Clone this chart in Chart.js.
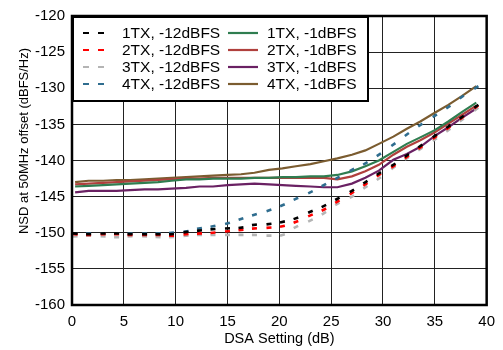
<!DOCTYPE html>
<html>
<head>
<meta charset="utf-8">
<script src="https://cdn.jsdelivr.net/npm/chart.js@4"></script>
<style>
  body { margin: 0; background: #fff; }
  #wrap { width: 503px; height: 350px; position: relative; }
</style>
</head>
<body>
<div id="wrap"><canvas id="nsdChart"></canvas></div>
<script>
// DSA setting (dB) for each measured point
const dsa = [0.3, 1.6, 3.0, 4.3, 5.6, 7.0, 8.3, 9.6, 11.0, 12.3, 13.6, 15.0, 16.3, 17.6, 19.0,
  20.3, 21.6, 23.0, 24.3, 25.6, 27.0, 28.3, 29.6, 31.0, 32.3, 33.6, 35.0, 36.3, 37.6, 39.0];

// NSD (dBFS/Hz), -12dBFS input
const tx1Low = [-150.1, -150.2, -150.1, -150.1, -150.2, -150.2, -150.2, -150.2, -149.9, -149.7,
  -149.5, -149.4, -149.3, -148.9, -148.8, -148.5, -148.0, -147.1, -146.3, -145.3,
  -144.2, -143.0, -141.8, -140.6, -139.3, -138.0, -136.6, -135.3, -134.0, -132.5];
const tx2Low = [-150.2, -150.3, -150.2, -150.2, -150.3, -150.3, -150.3, -150.4, -150.2, -150.1,
  -150.0, -149.8, -149.6, -149.4, -149.3, -149.1, -148.5, -147.6, -146.8, -145.7,
  -144.5, -143.3, -142.0, -140.8, -139.5, -138.2, -136.8, -135.5, -134.1, -132.6];
const tx3Low = [-150.5, -150.4, -150.5, -150.6, -150.5, -150.5, -150.6, -150.6, -150.4, -150.3,
  -150.3, -150.3, -150.3, -150.3, -150.4, -150.3, -149.2, -148.3, -147.3, -146.0,
  -145.0, -143.7, -142.5, -141.0, -139.7, -138.4, -137.1, -135.8, -134.4, -132.9];
const tx4Low = [-150.1, -150.1, -150.1, -150.1, -150.1, -150.1, -150.1, -150.0, -149.8, -149.4,
  -149.1, -148.7, -148.1, -147.5, -146.9, -146.2, -145.3, -144.4, -143.4, -142.4,
  -141.3, -140.4, -139.2, -137.8, -136.4, -135.1, -133.8, -132.6, -131.2, -129.9];

// NSD (dBFS/Hz), -1dBFS input
const tx1High = [-143.6, -143.5, -143.4, -143.3, -143.2, -143.1, -143.0, -142.8, -142.6, -142.6,
  -142.5, -142.5, -142.5, -142.4, -142.4, -142.3, -142.3, -142.2, -142.2, -142.0,
  -141.5, -140.8, -140.0, -138.8, -137.7, -136.8, -135.8, -134.6, -133.3, -132.0];
const tx2High = [-143.3, -143.2, -143.1, -143.0, -142.9, -142.8, -142.7, -142.6, -142.5, -142.5,
  -142.4, -142.4, -142.4, -142.4, -142.4, -142.4, -142.4, -142.4, -142.4, -142.6,
  -142.2, -141.5, -140.6, -139.2, -138.1, -137.2, -136.1, -134.9, -133.7, -132.4];
const tx3High = [-144.4, -144.2, -144.2, -144.2, -144.1, -144.0, -144.0, -143.9, -143.8, -143.6,
  -143.6, -143.4, -143.3, -143.2, -143.3, -143.4, -143.5, -143.6, -143.7, -143.7,
  -143.2, -142.4, -141.4, -139.9, -139.1, -138.1, -136.6, -135.4, -134.1, -132.8];
const tx4High = [-143.0, -142.8, -142.8, -142.7, -142.7, -142.6, -142.5, -142.4, -142.3, -142.2,
  -142.1, -142.0, -141.9, -141.7, -141.3, -141.1, -140.8, -140.5, -140.1, -139.7,
  -139.2, -138.6, -137.7, -136.7, -135.6, -134.6, -133.4, -132.3, -131.1, -129.7];

const xTicks = [0, 5, 10, 15, 20, 25, 30, 35, 40];
const yTicks = [-160, -155, -150, -145, -140, -135, -130, -125, -120];

const FONT = "'Liberation Sans', Arial, sans-serif";

function pts(vals) {
  return vals.map((v, i) => ({ x: dsa[i], y: v }));
}

// tilt each dash marker along the curve
function dashAngle(ctx) {
  const chart = ctx.chart;
  if (!chart.scales || !chart.scales.x) return 0;
  const d = chart.data.datasets[ctx.datasetIndex].data;
  const i = ctx.dataIndex;
  const a = d[Math.max(i - 1, 0)], b = d[Math.min(i + 1, d.length - 1)];
  const dx = chart.scales.x.getPixelForValue(b.x) - chart.scales.x.getPixelForValue(a.x);
  const dy = chart.scales.y.getPixelForValue(b.y) - chart.scales.y.getPixelForValue(a.y);
  return Math.atan2(dy, dx) * 180 / Math.PI;
}

function dashed(label, vals, color) {
  return {
    label, data: pts(vals),
    borderColor: color, backgroundColor: color,
    showLine: false, pointStyle: "line", pointRadius: 2.5,
    pointBorderWidth: 2.6, pointRotation: dashAngle, pointHoverRadius: 2.5
  };
}

function solid(label, vals, color) {
  return {
    label, data: pts(vals),
    borderColor: color, backgroundColor: color,
    borderWidth: 2.2, pointRadius: 0, tension: 0
  };
}

const datasets = [
  dashed("1TX, -12dBFS", tx1Low, "#000000"),
  dashed("2TX, -12dBFS", tx2Low, "#ff0000"),
  dashed("3TX, -12dBFS", tx3Low, "#b4b4b4"),
  dashed("4TX, -12dBFS", tx4Low, "#2f6d8f"),
  solid("1TX, -1dBFS", tx1High, "#2f7d50"),
  solid("2TX, -1dBFS", tx2High, "#b0403d"),
  solid("3TX, -1dBFS", tx3High, "#6a2163"),
  solid("4TX, -1dBFS", tx4High, "#7b5c30")
];

// frame, legend box and axis titles
const decor = {
  id: "decor",
  afterDraw(chart) {
    const c = chart.ctx, a = chart.chartArea;
    c.save();

    // legend
    const lx = a.left, ly = a.top, lw = 296, lh = 85;
    c.fillStyle = "#fff";
    c.fillRect(lx, ly, lw, lh);
    c.strokeStyle = "#000";
    c.lineWidth = 2;
    c.strokeRect(lx + 1, ly + 1, lw - 1, lh - 1);

    c.font = "15.5px " + FONT;
    c.textBaseline = "middle";
    c.textAlign = "left";
    chart.data.datasets.forEach((ds, i) => {
      const col = i < 4 ? 0 : 1;
      const row = i % 4;
      const y = ly + 17 + row * 17;
      c.strokeStyle = ds.borderColor;
      c.lineWidth = 2.2;
      c.beginPath();
      if (col === 0) {
        c.moveTo(lx + 11, y); c.lineTo(lx + 17, y);
        c.moveTo(lx + 26, y); c.lineTo(lx + 32, y);
      } else {
        c.moveTo(lx + 156, y); c.lineTo(lx + 186, y);
      }
      c.stroke();
      c.fillStyle = "#000";
      c.fillText(ds.label, lx + (col === 0 ? 50 : 195), y + 1);
    });

    // plot frame
    c.strokeStyle = "#000";
    c.lineWidth = 2.5;
    c.strokeRect(a.left, a.top, a.right - a.left, a.bottom - a.top);

    // axis titles
    c.fillStyle = "#000";
    c.font = "14.5px " + FONT;
    c.textAlign = "center";
    c.textBaseline = "middle";
    c.fillText("DSA Setting (dB)", (a.left + a.right) / 2, 339);
    c.translate(24, 141);
    c.rotate(-Math.PI / 2);
    c.font = "13px " + FONT;
    c.fillText("NSD at 50MHz offset (dBFS/Hz)", 0, 0);
    c.restore();
  }
};

new Chart(document.getElementById("nsdChart"), {
  type: "line",
  data: { datasets },
  plugins: [decor],
  options: {
    responsive: true,
    maintainAspectRatio: false,
    animation: false,
    events: [],
    layout: { padding: { top: 14, right: 6, left: 0, bottom: 0 } },
    plugins: { legend: { display: false }, tooltip: { enabled: false } },
    scales: {
      x: {
        type: "linear",
        min: xTicks[0], max: xTicks[xTicks.length - 1],
        afterFit: s => { s.height = 45; },
        afterBuildTicks: s => { s.ticks = xTicks.map(v => ({ value: v })); },
        ticks: { color: "#000", font: { family: FONT, size: 15 }, padding: 8, maxRotation: 0 },
        grid: { color: "#222", lineWidth: 1, drawTicks: false },
        border: { display: false }
      },
      y: {
        type: "linear",
        min: yTicks[0], max: yTicks[yTicks.length - 1],
        afterFit: s => { s.width = 72; },
        afterBuildTicks: s => { s.ticks = yTicks.map(v => ({ value: v })); },
        ticks: { color: "#000", font: { family: FONT, size: 15 }, padding: 7 },
        grid: { color: "#222", lineWidth: 1, drawTicks: false },
        border: { display: false }
      }
    }
  }
});
</script>
</body>
</html>
